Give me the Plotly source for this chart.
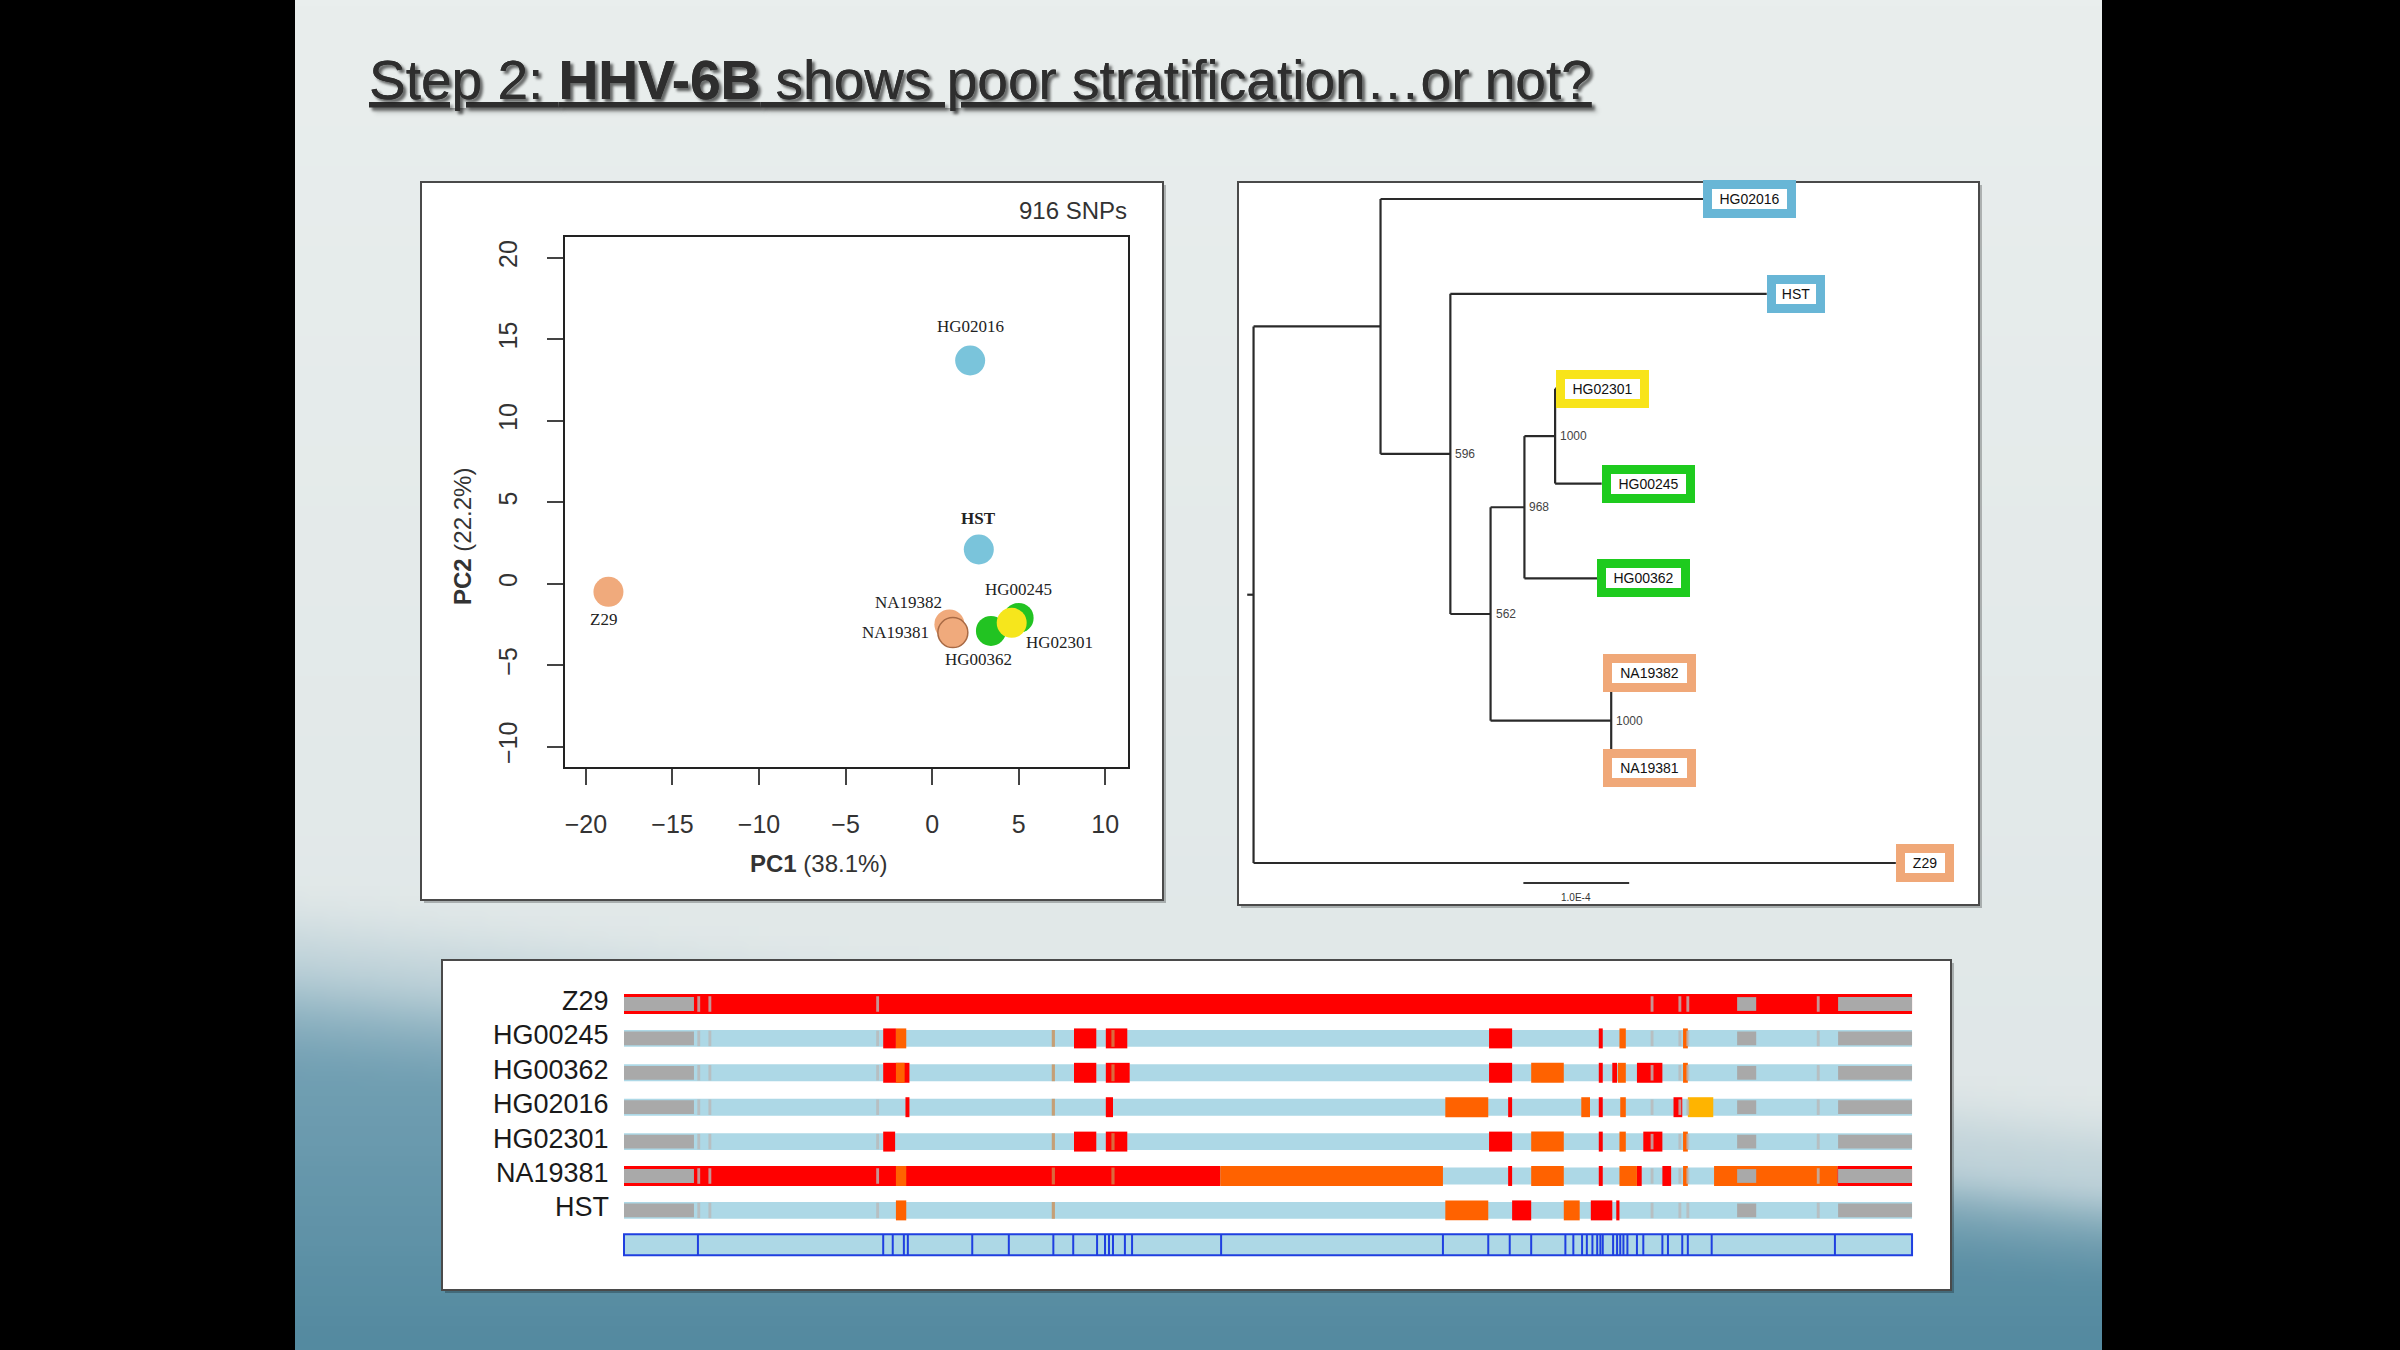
import base64, struct, zlib
import numpy as np
import plotly.graph_objects as go

W, H = 2400, 1350
def px(x): return x / W
def py(y): return 1 - y / H

# ------------------------------------------------------------------ data
# PCA (916 SNPs)
pca_samples = ["Z29", "HG02016", "HST", "NA19382", "NA19381", "HG00245", "HG00362", "HG02301"]
pc1 = [-18.7, 2.2, 2.7, 1.0, 1.2, 5.0, 3.4, 4.6]
pc2 = [-0.5, 13.7, 2.1, -2.5, -3.0, -2.1, -2.9, -2.4]
sample_group = {"Z29": "peach", "NA19382": "peach", "NA19381": "peach",
                "HG02016": "blue", "HST": "blue",
                "HG00245": "green", "HG00362": "green", "HG02301": "yellow"}
group_color = {"blue": "#7ac4db", "peach": "#f0aa7c", "green": "#22c322", "yellow": "#f6e61c"}
box_color = {"blue": "#68b6d6", "peach": "#f0a878", "green": "#1ecb1e", "yellow": "#f8e41a"}
# label offsets from the marker centre (style, in px: right / up)
pca_label_offset = {"Z29": (-5, -28), "HG02016": (0, 34), "HST": (0, 31), "NA19382": (-41, 22),
                    "NA19381": (-57, 0), "HG00245": (0, 28), "HG00362": (-12, -29), "HG02301": (48, -20)}

# Phylogenetic tree (branch depths in units of 1e-4 subs/site)
tree_tips = ["HG02016", "HST", "HG02301", "HG00245", "HG00362", "NA19382", "NA19381", "Z29"]
tree_tip_depth = [4.25, 4.85, 2.86, 3.29, 3.25, 3.39, 3.39, 6.07]
tree_nodes = ["root", "n1", "n2", "n3", "n4", "n5", "n6"]
tree_node_depth = [0.0, 1.20, 1.86, 2.24, 2.56, 2.85, 3.38]
tree_children = [["n1", "Z29"], ["HG02016", "n2"], ["HST", "n3"], ["n4", "n6"],
                 ["n5", "HG00362"], ["HG02301", "HG00245"], ["NA19382", "NA19381"]]
tree_support = [None, None, 596, 562, 968, 1000, 1000]
root_stub = 0.06
scale_bar_len = 1.0          # = 1.0E-4
scale_bar_label = "1.0E-4"

# Genome mosaic (positions in kb)
track_rows = ["Z29", "HG00245", "HG00362", "HG02016", "HG02301", "NA19381", "HST"]
genome_len = 162.0
common_gray = [(0.0, 8.8), (140.0, 142.4), (152.7, 162.0)]
common_lines = [9.4, 10.8, 31.9, 129.3, 132.8, 133.8, 150.2]
red_blocks = {
    "Z29": [(0.0, 162.0)],
    "HG00245": [(32.6, 34.2), (56.6, 59.4), (60.6, 63.3), (108.8, 111.7), (122.6, 123.1)],
    "HG00362": [(32.6, 35.9), (56.6, 59.4), (60.6, 63.6), (108.8, 111.7), (122.6, 123.1),
                (124.3, 124.9), (127.4, 130.6)],
    "HG02016": [(35.4, 35.9), (60.6, 61.5), (111.2, 111.7), (122.6, 123.1), (132.0, 133.1)],
    "HG02301": [(32.6, 34.1), (56.6, 59.4), (60.6, 63.3), (108.8, 111.7), (122.6, 123.1),
                (128.2, 130.6)],
    "NA19381": [(0.0, 75.0), (111.2, 111.7), (122.6, 123.1), (127.4, 128.0), (130.6, 131.7),
                (152.6, 162.0)],
    "HST": [(111.7, 114.1), (121.6, 124.3), (124.8, 125.2)],
}
orange_blocks = {
    "HG00245": [(34.2, 35.5), (125.2, 126.0), (133.2, 133.8)],
    "HG00362": [(34.2, 35.3), (114.1, 118.2), (125.0, 126.0), (133.2, 133.8)],
    "HG02016": [(103.3, 108.7), (120.4, 121.5), (125.3, 126.0)],
    "HG02301": [(114.1, 118.2), (125.2, 126.0), (133.2, 133.8)],
    "NA19381": [(34.2, 35.5), (75.0, 103.0), (114.1, 118.2), (125.2, 127.4), (133.2, 133.8),
                (137.1, 152.6)],
    "HST": [(34.2, 35.5), (103.3, 108.7), (118.2, 120.2)],
}
amber_blocks = {"HG02016": [(133.8, 137.0)]}
tan_lines = {
    "HG00245": [54.0, 61.5], "HG00362": [54.0, 61.5], "HG02016": [54.0],
    "HG02301": [54.0, 61.5], "NA19381": [54.0, 61.5], "HST": [54.0],
}
ruler_ticks = [9.3, 32.6, 33.8, 35.2, 35.7, 43.8, 48.4, 54.0, 56.5, 59.5, 60.5, 61.0, 61.5,
               63.0, 63.9, 75.1, 103.0, 108.7, 111.4, 114.1, 118.4, 119.4, 120.5, 121.1,
               121.8, 122.4, 122.8, 123.1, 124.4, 124.9, 125.3, 125.7, 126.2, 127.4, 128.2,
               130.6, 131.3, 133.1, 133.8, 136.8, 152.3]

# ------------------------------------------------------------------ slide background image
bgW, bgH = 181, 135
U, Y = np.meshgrid(np.linspace(0, 1, bgW), np.linspace(0, H, bgH))
top = np.array([233, 238, 237.0]); mid = np.array([222, 230, 231.0])
img = top + (mid - top) * (Y / H)[..., None]
bnd = 985 + 215 * U
t = np.clip((Y - (bnd - 110)) / 210, 0, 1); t = t * t * (3 - 2 * t)
tealA = np.array([128, 170, 188.0]); tealB = np.array([84, 138, 160.0])
s = np.clip((Y - 950) / 400, 0, 1)[..., None]
teal = tealA + (tealB - tealA) * s
img = img * (1 - t[..., None]) + teal * t[..., None]
wv = 0.22 * np.exp(-((Y - (bnd - 10)) / 30) ** 2) * (0.3 + 0.7 * U)
img = img * (1 - wv[..., None]) + 255 * wv[..., None]
img = np.clip(img, 0, 255).astype(np.uint8)

def to_png(a):
    h, w, _ = a.shape
    raw = b"".join(b"\x00" + a[r].tobytes() for r in range(h))
    def chunk(tag, data):
        return struct.pack(">I", len(data)) + tag + data + struct.pack(">I", zlib.crc32(tag + data) & 0xffffffff)
    return (b"\x89PNG\r\n\x1a\n" + chunk(b"IHDR", struct.pack(">IIBBBBB", w, h, 8, 2, 0, 0, 0))
            + chunk(b"IDAT", zlib.compress(raw, 9)) + chunk(b"IEND", b""))

bg_uri = "data:image/png;base64," + base64.b64encode(to_png(img)).decode()

fig = go.Figure()

# ------------------------------------------------------------------ PCA
fig.add_trace(go.Scatter(
    x=pc1, y=pc2, mode="markers",
    marker=dict(size=30, color=[group_color[sample_group[n]] for n in pca_samples],
                line=dict(width=[1.5 if n == "NA19381" else 0 for n in pca_samples], color="#a86a45")),
    xaxis="x", yaxis="y", hoverinfo="skip", cliponaxis=False))

# ------------------------------------------------------------------ tree
depth = dict(zip(tree_tips, tree_tip_depth)); depth.update(zip(tree_nodes, tree_node_depth))
children = dict(zip(tree_nodes, tree_children))
ypos = {tp: i + 1 for i, tp in enumerate(tree_tips)}
def yof(n):
    if n not in ypos:
        ys = [yof(c) for c in children[n]]
        ypos[n] = (ys[0] + ys[-1]) / 2
    return ypos[n]
for n in tree_nodes:
    yof(n)
lx, ly = [], []
for n in tree_nodes:
    cs = children[n]
    lx += [depth[n], depth[n], None]; ly += [min(ypos[c] for c in cs), max(ypos[c] for c in cs), None]
    for c in cs:
        lx += [depth[n], depth[c], None]; ly += [ypos[c], ypos[c], None]
lx += [depth["root"] - root_stub, depth["root"], None]; ly += [ypos["root"], ypos["root"], None]
fig.add_trace(go.Scatter(x=lx, y=ly, mode="lines", line=dict(color="#2a2a2a", width=2.2),
                         xaxis="x2", yaxis="y2", hoverinfo="skip"))
sb_x0, sb_y = 2.55, 8.21
fig.add_trace(go.Scatter(x=[sb_x0, sb_x0 + scale_bar_len], y=[sb_y, sb_y], mode="lines",
                         line=dict(color="#333", width=2), xaxis="x2", yaxis="y2", hoverinfo="skip"))

# ------------------------------------------------------------------ genome mosaic
row_idx = {r: i for i, r in enumerate(track_rows)}
def add_bars(segs, color, height, opacity=1.0):
    ys, bases, lens = [], [], []
    for r, s0, s1 in segs:
        ys.append(row_idx[r]); bases.append(s0); lens.append(s1 - s0)
    fig.add_trace(go.Bar(orientation="h", y=ys, base=bases, x=lens, width=[height] * len(ys),
                         marker=dict(color=color, line=dict(width=0)), opacity=opacity,
                         xaxis="x3", yaxis="y3", hoverinfo="skip"))

add_bars([(r, 0.0, genome_len) for r in track_rows], "#add8e6", 0.49)
add_bars([(r, a, b) for r, L in red_blocks.items() for a, b in L], "#ff0000", 0.58)
add_bars([(r, a, b) for r, L in orange_blocks.items() for a, b in L], "#ff6200", 0.58)
add_bars([(r, a, b) for r, L in amber_blocks.items() for a, b in L], "#ffb400", 0.58)
add_bars([(r, p - 0.2, p + 0.2) for r, L in tan_lines.items() for p in L], "rgba(205,140,80,0.75)", 0.49)
add_bars([(r, a, b) for r in track_rows for a, b in common_gray], "#a9a9a9", 0.40)
add_bars([(r, p - 0.18, p + 0.18) for r in track_rows for p in common_lines], "rgba(185,185,185,0.8)", 0.45)
# ruler
ruler_row = len(track_rows)
fig.add_trace(go.Bar(orientation="h", y=[ruler_row], base=[0.0], x=[genome_len], width=[0.61],
                     marker=dict(color="#add8e6", line=dict(color="#1f3fe0", width=2)),
                     xaxis="x3", yaxis="y3", hoverinfo="skip"))
rx, ry = [], []
for p in ruler_ticks:
    rx += [p, p, None]; ry += [ruler_row - 0.3, ruler_row + 0.3, None]
fig.add_trace(go.Scatter(x=rx, y=ry, mode="lines", line=dict(color="#1f3fe0", width=2),
                         xaxis="x3", yaxis="y3", hoverinfo="skip"))

# ------------------------------------------------------------------ annotations
ann = []
ann.append(dict(text="Step 2: <b>HHV-6B</b> shows poor stratification…or not?", xref="paper", yref="paper",
                x=px(367), y=py(80), xanchor="left", yanchor="middle", showarrow=False,
                font=dict(family="Liberation Sans", size=55, color="#2e2e2e", lineposition="under",
                          shadow="3px 3px 3px rgba(0,0,0,0.35)")))
ann.append(dict(text="916 SNPs", xref="paper", yref="paper", x=px(1129), y=py(210), xanchor="right",
                yanchor="middle", showarrow=False, font=dict(family="Liberation Sans", size=24, color="#333")))
ann.append(dict(text="<b>PC1</b> (38.1%)", xref="paper", yref="paper", x=px(818), y=py(863), xanchor="center",
                yanchor="middle", showarrow=False, font=dict(family="Liberation Sans", size=24, color="#333")))
ann.append(dict(text="<b>PC2</b> (22.2%)", xref="paper", yref="paper", x=px(462), y=py(537), xanchor="center",
                yanchor="middle", textangle=-90, showarrow=False,
                font=dict(family="Liberation Sans", size=24, color="#333")))
for n, xv, yv in zip(pca_samples, pc1, pc2):
    dx, dy = pca_label_offset[n]
    ann.append(dict(text="<b>%s</b>" % n if n == "HST" else n, xref="x", yref="y", x=xv, y=yv,
                    xshift=dx, yshift=dy, xanchor="center", yanchor="middle", showarrow=False,
                    font=dict(family="Liberation Serif", size=17, color="#222")))
for tp in tree_tips:
    short = len(tp) <= 3
    ann.append(dict(text=tp, xref="x2", yref="y2", x=depth[tp], y=ypos[tp], xanchor="left", yanchor="middle",
                    xshift=-9 if tp.startswith("NA") else 0,
                    showarrow=False, bgcolor="white", bordercolor=box_color[sample_group[tp]], borderwidth=9,
                    borderpad=1, width=38 if short else 73, height=18,
                    font=dict(family="Liberation Sans", size=14, color="#111")))
for n, sup in zip(tree_nodes, tree_support):
    if sup is not None:
        ann.append(dict(text=str(sup), xref="x2", yref="y2", x=depth[n], y=ypos[n], xanchor="left",
                        yanchor="middle", xshift=3, showarrow=False,
                        font=dict(family="Liberation Sans", size=12, color="#444")))
ann.append(dict(text=scale_bar_label, xref="x2", yref="y2", x=sb_x0 + scale_bar_len / 2, y=sb_y + 0.15,
                xanchor="center", yanchor="middle", showarrow=False,
                font=dict(family="Liberation Sans", size=10, color="#333")))
for r in track_rows:
    ann.append(dict(text=r, xref="x3", yref="y3", x=-1.6, y=row_idx[r], xanchor="right", yanchor="middle",
                    yshift=3, showarrow=False, font=dict(family="Liberation Sans", size=27, color="#1a1a1a")))

# ------------------------------------------------------------------ panels (decoration)
shapes = []
for (x0, y0, x1, y1) in [(421, 182, 1163, 900), (1238, 182, 1979, 905), (442, 960, 1951, 1290)]:
    shapes.append(dict(type="rect", xref="paper", yref="paper", x0=px(x0 + 3), x1=px(x1 + 3),
                       y0=py(y1 + 3), y1=py(y0 + 3), fillcolor="rgba(0,0,0,0.25)", line=dict(width=0),
                       layer="below"))
    shapes.append(dict(type="rect", xref="paper", yref="paper", x0=px(x0), x1=px(x1), y0=py(y1), y1=py(y0),
                       fillcolor="white", line=dict(color="#4a4a4a", width=2), layer="below"))

pca_ax = dict(showgrid=False, zeroline=False, showline=True, mirror=True, linecolor="#222", linewidth=2,
              ticks="outside", ticklen=16, tickwidth=2, tickcolor="#444", dtick=5, tick0=0,
              tickfont=dict(family="Liberation Sans", size=25, color="#333"))
hidden = dict(visible=False, showgrid=False, zeroline=False)
fig.update_layout(
    width=W, height=H, margin=dict(l=0, r=0, t=0, b=0), paper_bgcolor="black",
    plot_bgcolor="rgba(0,0,0,0)", showlegend=False, barmode="overlay",
    xaxis=dict(pca_ax, domain=[px(565), px(1128)], range=[-21.21, 11.32], anchor="y", ticklabelstandoff=18),
    yaxis=dict(pca_ax, domain=[py(767), py(237)], range=[-11.25, 21.28], anchor="x", tickangle=-90,
               ticklabelstandoff=20),
    xaxis2=dict(hidden, domain=[px(1238), px(1979)], range=[-0.147, 6.856], anchor="y2"),
    yaxis2=dict(hidden, domain=[py(905), py(182)], range=[8.443, 0.821], anchor="x2"),
    xaxis3=dict(hidden, domain=[px(442), px(1951)], range=[-22.89, 166.9], anchor="y3"),
    yaxis3=dict(hidden, domain=[py(1290), py(960)], range=[8.314, -1.279], anchor="x3"),
    annotations=ann, shapes=shapes,
    images=[dict(source=bg_uri, xref="paper", yref="paper", x=px(295), y=1, sizex=px(2102 - 295), sizey=1,
                 xanchor="left", yanchor="top", sizing="stretch", layer="below")],
)
fig.write_html("out.html", config={"displayModeBar": False},
               post_script="document.body.style.margin='0';document.body.style.background='black';")
